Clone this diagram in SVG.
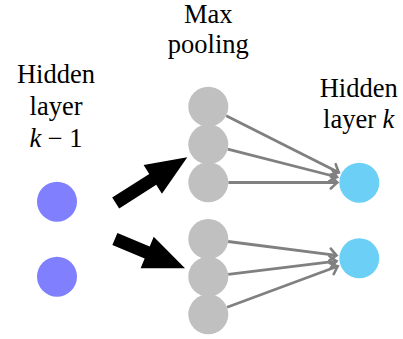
<svg xmlns="http://www.w3.org/2000/svg" width="403" height="339" viewBox="0 0 403 339">
<defs>
<marker id="ah" markerUnits="userSpaceOnUse" viewBox="-10 -10 14 20" markerWidth="14" markerHeight="20" refX="0" refY="0" orient="auto">
<path d="M-6.5,-6 Q-1.5,-1.2 0,0 Q-1.5,1.2 -6.5,6" stroke="#808080" stroke-width="2.6" fill="none" stroke-linecap="round"/>
</marker>
</defs>
<g id="text-left">
<text x="56" y="82.5" font-family="'Liberation Serif', 'Times New Roman', serif" font-size="26.5" text-anchor="middle">Hidden</text>
<text x="56" y="114.5" font-family="'Liberation Serif', 'Times New Roman', serif" font-size="26.5" text-anchor="middle">layer</text>
<text x="56" y="146.7" font-family="'Liberation Serif', 'Times New Roman', serif" font-size="26.5" text-anchor="middle"><tspan font-style="italic">k</tspan> − 1</text>
</g>
<g id="text-pool">
<text x="208.3" y="22.7" font-family="'Liberation Serif', 'Times New Roman', serif" font-size="26.5" text-anchor="middle">Max</text>
<text x="208.3" y="52.7" font-family="'Liberation Serif', 'Times New Roman', serif" font-size="26.5" text-anchor="middle">pooling</text>
</g>
<g id="text-right">
<text x="358.7" y="96.7" font-family="'Liberation Serif', 'Times New Roman', serif" font-size="26.5" text-anchor="middle">Hidden</text>
<text x="358.7" y="128.3" font-family="'Liberation Serif', 'Times New Roman', serif" font-size="26.5" text-anchor="middle">layer <tspan font-style="italic">k</tspan></text>
</g>
<g id="connectors" stroke="#808080" stroke-width="2.8" fill="none" marker-end="url(#ah)">
<line x1="226.2" y1="115.7" x2="338.8" y2="172.4"/>
<line x1="227.7" y1="149.2" x2="337.0" y2="177.0"/>
<line x1="228.3" y1="182.5" x2="337.3" y2="182.5"/>
<line x1="228.1" y1="241.5" x2="336.5" y2="255.4"/>
<line x1="228.2" y1="274.3" x2="336.5" y2="261.1"/>
<line x1="227.1" y1="307.3" x2="337.7" y2="266.3"/>
</g>
<g id="big-arrows" fill="#000">
<polygon transform="translate(187.3,157.3) rotate(-32.6)" points="0,0 -41,-17 -41,-6.5 -85,-6.5 -85,6.5 -41,6.5 -41,17"/>
<polygon transform="translate(185,268.3) rotate(22.7)" points="0,0 -41,-17 -41,-6.5 -76,-6.5 -76,6.5 -41,6.5 -41,17"/>
</g>
<g id="in1"><circle fill="#8080ff" cx="57" cy="201.7" r="20"/></g>
<g id="in2"><circle fill="#8080ff" cx="57" cy="276.7" r="20"/></g>
<g id="p1"><circle fill="#c0c0c0" cx="208.3" cy="106.7" r="20"/></g>
<g id="p2"><circle fill="#c0c0c0" cx="208.3" cy="144.3" r="20"/></g>
<g id="p3"><circle fill="#c0c0c0" cx="208.3" cy="182.3" r="20"/></g>
<g id="p4"><circle fill="#c0c0c0" cx="208.3" cy="239" r="20"/></g>
<g id="p5"><circle fill="#c0c0c0" cx="208.3" cy="276.7" r="20"/></g>
<g id="p6"><circle fill="#c0c0c0" cx="208.3" cy="314.3" r="20"/></g>
<g id="out1"><circle fill="#6cd0f6" cx="359.3" cy="182.7" r="20"/></g>
<g id="out2"><circle fill="#6cd0f6" cx="359.3" cy="258.3" r="20"/></g>
</svg>
